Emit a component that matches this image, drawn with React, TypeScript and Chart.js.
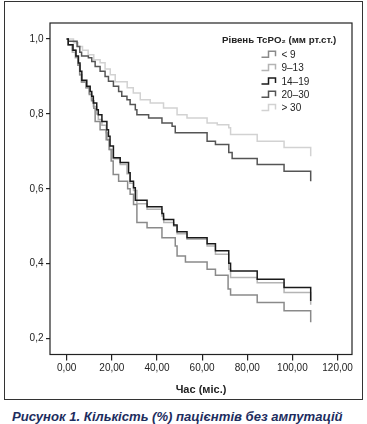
import React, { useEffect, useRef } from "react";
import { Chart, registerables } from "chart.js";

Chart.register(...registerables);

// ---- data ----
const X_TICKS = [0, 20, 40, 60, 80, 100, 120];
const Y_TICKS = [0.2, 0.4, 0.6, 0.8, 1.0];
const SERIES_LABELS = ["< 9", "9–13", "14–19", "20–30", "> 30"];
const LEGEND_TITLE = "Рівень TcPO₂ (мм рт.ст.)";
const X_TITLE = "Час (міс.)";
const CAPTION = "Рисунок 1. Кількість (%) пацієнтів без ампутацій";

const T_LT9 = [0, 0.7, 2.5, 4.0, 5.0, 5.8, 6.6, 8.6, 10.0, 11.0, 12.0, 12.6, 14.8, 17.5, 18.8, 19.7, 20.6, 23.0, 27.0, 28.1, 29.6, 31.1, 35.6, 42.2, 48.1, 48.9, 52.6, 62.2, 65.9, 71.5, 72.6, 84.4, 96.3, 108.1];
const S_LT9 = [1.0, 0.985, 0.97, 0.952, 0.93, 0.905, 0.885, 0.87, 0.852, 0.835, 0.815, 0.78, 0.758, 0.731, 0.705, 0.674, 0.638, 0.62, 0.6, 0.585, 0.558, 0.51, 0.496, 0.469, 0.447, 0.42, 0.404, 0.385, 0.369, 0.332, 0.316, 0.296, 0.274, 0.243];

const T_9_13 = [0, 0.5, 2.5, 3.8, 5.0, 5.7, 6.5, 8.5, 10.0, 11.0, 11.8, 13.3, 14.0, 15.6, 17.5, 18.2, 19.0, 20.5, 23.7, 26.7, 28.0, 29.6, 31.1, 35.6, 42.2, 43.0, 47.4, 48.9, 53.3, 62.2, 65.9, 71.8, 72.6, 84.4, 96.3, 108.1];
const S_9_13 = [1.0, 0.985, 0.965, 0.95, 0.93, 0.905, 0.885, 0.87, 0.855, 0.84, 0.82, 0.8, 0.785, 0.77, 0.75, 0.73, 0.705, 0.68, 0.665, 0.64, 0.615, 0.595, 0.56, 0.545, 0.527, 0.51, 0.5, 0.48, 0.465, 0.447, 0.425, 0.385, 0.363, 0.349, 0.323, 0.29];

const T_14_19 = [0, 0.7, 2.8, 4.1, 5.2, 5.9, 6.7, 8.9, 10.4, 11.1, 11.8, 13.3, 14.0, 15.6, 17.8, 18.5, 19.2, 20.7, 23.7, 27.4, 28.1, 29.6, 30.4, 35.6, 42.2, 42.9, 47.4, 48.9, 53.3, 62.2, 65.9, 71.8, 72.6, 84.4, 96.3, 108.1];
const S_14_19 = [1.0, 0.985, 0.97, 0.955, 0.936, 0.914, 0.89, 0.874, 0.86, 0.847, 0.829, 0.811, 0.798, 0.78, 0.758, 0.74, 0.714, 0.683, 0.67, 0.643, 0.62, 0.603, 0.569, 0.552, 0.534, 0.518, 0.503, 0.485, 0.469, 0.453, 0.434, 0.401, 0.38, 0.358, 0.336, 0.3];

const T_20_30 = [0, 0.7, 4.6, 5.8, 6.6, 9.6, 11.1, 12.6, 14.8, 17.0, 18.5, 20.7, 23.0, 24.4, 26.7, 28.1, 30.4, 31.1, 36.3, 42.2, 46.7, 48.1, 62.2, 65.9, 71.8, 73.3, 84.4, 96.3, 108.1];
const S_20_30 = [1.0, 0.994, 0.98, 0.965, 0.955, 0.95, 0.94, 0.927, 0.914, 0.9, 0.887, 0.874, 0.86, 0.847, 0.838, 0.825, 0.811, 0.798, 0.789, 0.776, 0.767, 0.75, 0.727, 0.718, 0.697, 0.681, 0.665, 0.647, 0.62];

const T_GT30 = [0, 3.0, 5.0, 7.0, 9.5, 12.0, 14.8, 17.0, 19.3, 21.5, 26.8, 29.5, 32.6, 37.0, 42.9, 48.9, 53.3, 62.2, 66.7, 71.8, 72.6, 84.4, 96.3, 108.1];
const S_GT30 = [1.0, 0.99, 0.98, 0.97, 0.958, 0.945, 0.937, 0.92, 0.905, 0.886, 0.87, 0.856, 0.838, 0.829, 0.816, 0.798, 0.789, 0.776, 0.771, 0.763, 0.745, 0.727, 0.71, 0.687];

const SERIES_T = [T_LT9, T_9_13, T_14_19, T_20_30, T_GT30];
const SERIES_S = [S_LT9, S_9_13, S_14_19, S_20_30, S_GT30];

// ---- styles ----
const COLORS = ["#8a8a8a", "#b4b4b4", "#1a1a1a", "#555555", "#d2d2d2"];
const ORDERS = [1, 2, 0, 3, 4];
const FONT = '"Liberation Sans", Arial, Helvetica, sans-serif';
const AXIS_COLOR = "#222";

const framePlugin = {
  id: "frame",
  afterDraw(chart: any) {
    const { ctx, chartArea } = chart;
    ctx.save();
    ctx.strokeStyle = AXIS_COLOR;
    ctx.lineWidth = 1.2;
    ctx.strokeRect(chartArea.left, chartArea.top, chartArea.right - chartArea.left, chartArea.bottom - chartArea.top);
    ctx.restore();
  },
};

const legendPlugin = {
  id: "kmLegend",
  afterDraw(chart: any) {
    const ctx = chart.ctx;
    ctx.save();
    ctx.textAlign = "left";
    ctx.textBaseline = "middle";
    ctx.fillStyle = "#222";
    ctx.font = `bold 9.7px ${FONT}`;
    ctx.fillText(LEGEND_TITLE, 222, 40);
    ctx.font = `10px ${FONT}`;
    SERIES_LABELS.forEach((lab, i) => {
      const cy = 55.3 + i * 13.3;
      const x0 = 261.5, x1 = 268.5, x2 = 275.5;
      ctx.strokeStyle = COLORS[i];
      ctx.lineWidth = 1.5;
      ctx.beginPath();
      ctx.moveTo(x0, cy + 2);
      ctx.lineTo(x1, cy + 2);
      ctx.lineTo(x1, cy - 4);
      ctx.lineTo(x2, cy - 4);
      ctx.lineTo(x2, cy + 1);
      ctx.stroke();
      ctx.fillStyle = "#222";
      ctx.fillText(lab, 281.5, cy);
    });
    ctx.restore();
  },
};

export default function App() {
  const ref = useRef<HTMLCanvasElement | null>(null);

  useEffect(() => {
    if (!ref.current) return;
    const chart = new Chart(ref.current, {
      type: "line",
      data: {
        datasets: SERIES_LABELS.map((label, i) => ({
          label,
          data: SERIES_T[i].map((t, j) => ({ x: t, y: SERIES_S[i][j] })),
          borderColor: COLORS[i],
          backgroundColor: COLORS[i],
          borderWidth: 1.5,
          pointRadius: 0,
          stepped: "before" as const,
          fill: false,
          order: ORDERS[i],
        })),
      },
      options: {
        animation: false,
        responsive: false,
        maintainAspectRatio: false,
        layout: { padding: { top: 23, right: 15, left: 0, bottom: 0 } },
        plugins: {
          legend: { display: false },
          tooltip: { enabled: false },
        },
        scales: {
          x: {
            type: "linear",
            min: -7.4,
            max: 126.4,
            afterBuildTicks: (scale: any) => {
              scale.ticks = X_TICKS.map((v) => ({ value: v }));
            },
            afterFit: (scale: any) => {
              scale.height = 45.5;
            },
            border: { display: false },
            grid: { drawOnChartArea: false, drawTicks: true, tickLength: 6, color: AXIS_COLOR, lineWidth: 1.2 },
            ticks: {
              padding: 2,
              color: "#222",
              font: { size: 10, family: FONT },
              maxRotation: 0,
              callback: (v: any) => Number(v).toFixed(2).replace(".", ","),
            },
            title: {
              display: true,
              text: X_TITLE,
              color: "#222",
              font: { size: 11, weight: "bold", family: FONT },
              padding: { top: 4, bottom: 3.6 },
            },
          },
          y: {
            type: "linear",
            min: 0.157,
            max: 1.043,
            afterBuildTicks: (scale: any) => {
              scale.ticks = Y_TICKS.map((v) => ({ value: v }));
            },
            afterFit: (scale: any) => {
              scale.width = 50;
            },
            border: { display: false },
            grid: { drawOnChartArea: false, drawTicks: true, tickLength: 4, color: AXIS_COLOR, lineWidth: 1.2 },
            ticks: {
              padding: 2.5,
              color: "#222",
              font: { size: 10, family: FONT },
              callback: (v: any) => Number(v).toFixed(1).replace(".", ","),
            },
          },
        },
      },
      plugins: [framePlugin, legendPlugin],
    });
    return () => chart.destroy();
  }, []);

  return (
    <div style={{ position: "absolute", left: 0, top: 0, width: 367, height: 424, background: "#fff", overflow: "hidden" }}>
      <div
        style={{
          position: "absolute",
          left: 4,
          top: 1,
          width: 359,
          height: 399,
          border: "1.5px solid #333",
          boxSizing: "border-box",
        }}
      />
      <canvas ref={ref} width={367} height={400} style={{ position: "absolute", left: 0, top: 0, width: 367, height: 400 }} />
      <div
        style={{
          position: "absolute",
          left: 12,
          top: 408,
          whiteSpace: "nowrap",
          fontFamily: FONT,
          fontWeight: "bold",
          fontStyle: "italic",
          fontSize: 13.1,
          lineHeight: "17px",
          color: "#1d2d5e",
        }}
      >
        {CAPTION}
      </div>
    </div>
  );
}
